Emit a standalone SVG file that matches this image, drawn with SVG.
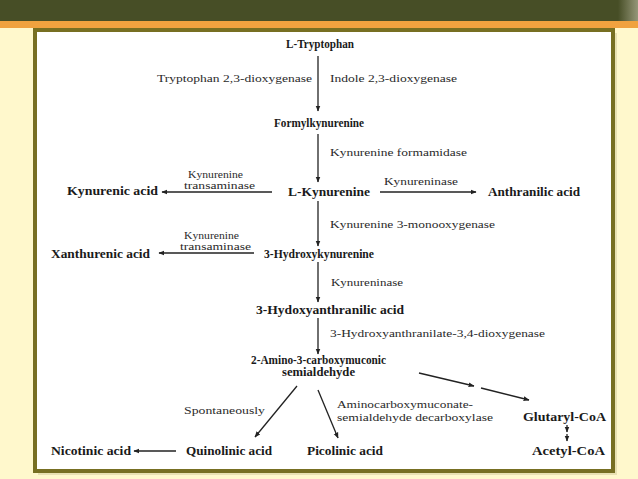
<svg xmlns="http://www.w3.org/2000/svg" width="638" height="479" viewBox="0 0 638 479">
<style>
text{font-family:"Liberation Serif","Tinos","DejaVu Serif","Noto Serif","Times New Roman",serif}
.n{font-weight:bold;font-size:11.5px;fill:#1a1a1a}
.e{font-size:11px;fill:#2a2a2a}
.s{font-size:10px}
.c line{stroke:#222;stroke-width:1.3;marker-end:url(#ah)}
</style>
<defs>
<marker id="ah" viewBox="0 0 10 10" refX="9" refY="5" markerWidth="6" markerHeight="6" markerUnits="userSpaceOnUse" orient="auto">
<path d="M0,1 L10,5 L0,9 z" fill="#222"/>
</marker>
<linearGradient id="sh" x1="0" y1="0" x2="1" y2="0">
<stop offset="0" stop-color="#474e26"/><stop offset="1" stop-color="#c9c7b0"/>
</linearGradient>
</defs>
<rect x="0" y="0" width="638" height="479" fill="#fff8cc"/>
<rect x="0" y="0" width="638" height="21" fill="#474e26"/>
<rect x="618" y="0" width="20" height="21" fill="url(#sh)" opacity="0.6"/>
<rect x="0" y="21" width="638" height="7" fill="#f0a23f"/>
<rect x="38" y="33" width="579" height="442" fill="#d8d2a0" opacity="0.6"/>
<rect x="35" y="30" width="578" height="441" fill="#ffffff" stroke="#776f22" stroke-width="4"/>

<g id="n-trp"><text class="n" x="286" y="48" textLength="68" lengthAdjust="spacingAndGlyphs">L-Tryptophan</text></g>
<g id="n-formyl"><text class="n" x="274" y="127" textLength="90" lengthAdjust="spacingAndGlyphs">Formylkynurenine</text></g>
<g id="n-lkyn"><text class="n" x="288" y="196" textLength="82" lengthAdjust="spacingAndGlyphs">L-Kynurenine</text></g>
<g id="n-kynacid"><text class="n" x="67" y="195" textLength="91" lengthAdjust="spacingAndGlyphs">Kynurenic acid</text></g>
<g id="n-anth"><text class="n" x="488" y="196" textLength="92" lengthAdjust="spacingAndGlyphs">Anthranilic acid</text></g>
<g id="n-3hk"><text class="n" x="264" y="258" textLength="110" lengthAdjust="spacingAndGlyphs">3-Hydroxykynurenine</text></g>
<g id="n-xan"><text class="n" x="51" y="258" textLength="99" lengthAdjust="spacingAndGlyphs">Xanthurenic acid</text></g>
<g id="n-3haa"><text class="n" x="256" y="314" textLength="148" lengthAdjust="spacingAndGlyphs">3-Hydoxyanthranilic acid</text></g>
<g id="n-acms"><text class="n" x="251" y="364" textLength="135" lengthAdjust="spacingAndGlyphs">2-Amino-3-carboxymuconic</text><text class="n" x="282" y="376" textLength="73" lengthAdjust="spacingAndGlyphs">semialdehyde</text></g>
<g id="n-glut"><text class="n" x="523" y="421" textLength="83" lengthAdjust="spacingAndGlyphs">Glutaryl-CoA</text></g>
<g id="n-acet"><text class="n" x="532" y="455" textLength="73" lengthAdjust="spacingAndGlyphs">Acetyl-CoA</text></g>
<g id="n-nic"><text class="n" x="51" y="455" textLength="80" lengthAdjust="spacingAndGlyphs">Nicotinic acid</text></g>
<g id="n-quin"><text class="n" x="186" y="455" textLength="86" lengthAdjust="spacingAndGlyphs">Quinolinic acid</text></g>
<g id="n-pic"><text class="n" x="307" y="455" textLength="76" lengthAdjust="spacingAndGlyphs">Picolinic acid</text></g>

<g id="labels">
<text class="e" x="157" y="82" textLength="155" lengthAdjust="spacingAndGlyphs">Tryptophan 2,3-dioxygenase</text>
<text class="e" x="330" y="82" textLength="127" lengthAdjust="spacingAndGlyphs">Indole 2,3-dioxygenase</text>
<text class="e" x="330" y="156" textLength="137" lengthAdjust="spacingAndGlyphs">Kynurenine formamidase</text>
<text class="e s" x="188" y="178" textLength="55" lengthAdjust="spacingAndGlyphs">Kynurenine</text>
<text class="e s" x="184" y="189" textLength="71" lengthAdjust="spacingAndGlyphs">transaminase</text>
<text class="e" x="384" y="185" textLength="74" lengthAdjust="spacingAndGlyphs">Kynureninase</text>
<text class="e" x="330" y="228" textLength="165" lengthAdjust="spacingAndGlyphs">Kynurenine 3-monooxygenase</text>
<text class="e s" x="184" y="239" textLength="55" lengthAdjust="spacingAndGlyphs">Kynurenine</text>
<text class="e s" x="180" y="250" textLength="71" lengthAdjust="spacingAndGlyphs">transaminase</text>
<text class="e" x="331" y="286" textLength="72" lengthAdjust="spacingAndGlyphs">Kynureninase</text>
<text class="e" x="330" y="337" textLength="215" lengthAdjust="spacingAndGlyphs">3-Hydroxyanthranilate-3,4-dioxygenase</text>
<text class="e" x="184" y="414" textLength="81" lengthAdjust="spacingAndGlyphs">Spontaneously</text>
<text class="e" x="337" y="408" textLength="136" lengthAdjust="spacingAndGlyphs">Aminocarboxymuconate-</text>
<text class="e" x="337" y="421" textLength="156" lengthAdjust="spacingAndGlyphs">semialdehyde decarboxylase</text>
</g>

<g id="connectors" class="c">
<line x1="318" y1="56" x2="318" y2="111"/>
<line x1="318" y1="134" x2="318" y2="182"/>
<line x1="272" y1="192" x2="162" y2="192"/>
<line x1="380" y1="192" x2="476" y2="192"/>
<line x1="318" y1="201" x2="318" y2="246"/>
<line x1="254" y1="253" x2="159" y2="253"/>
<line x1="318" y1="262" x2="318" y2="302"/>
<line x1="318" y1="318" x2="318" y2="354"/>
<line x1="419" y1="373" x2="474" y2="386"/>
<line x1="481" y1="388" x2="529" y2="400"/>
<line x1="297" y1="386" x2="255" y2="437"/>
<line x1="318" y1="390" x2="338" y2="438"/>
<line x1="176" y1="451" x2="134" y2="451"/>
<line x1="567" y1="425" x2="567" y2="432"/>
<line x1="567" y1="434" x2="567" y2="441"/>
</g>
</svg>
